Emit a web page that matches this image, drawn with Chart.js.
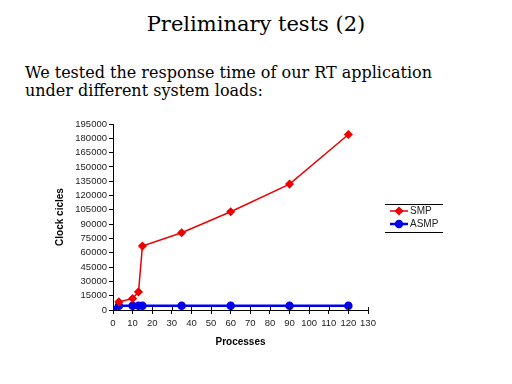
<!DOCTYPE html>
<html>
<head>
<meta charset="utf-8">
<script src="https://cdn.jsdelivr.net/npm/chart.js@4.4.0/dist/chart.umd.min.js"></script>
<style>
body { margin:0; width:512px; height:384px; background:#fff; overflow:hidden; position:relative; font-family:'DejaVu Serif', serif; color:#000; }
#title { position:absolute; left:0; width:512px; top:12px; text-align:center; font-size:21px; }
#intro { position:absolute; left:25px; top:64px; font-size:16px; line-height:18px; }
#wrap { position:absolute; left:0; top:110px; width:512px; height:260px; }
</style>
</head>
<body>
<div id="title">Preliminary tests (2)</div>
<div id="intro">We tested the response time of our RT application<br>under different system loads:</div>
<div id="wrap"><canvas id="c" width="512" height="260"></canvas></div>
<script>
// processes vs clock cycles
const smpX = [3, 10, 13, 15, 35, 60, 90, 120];
const smpY = [8500, 12000, 19000, 67000, 81000, 103000, 132000, 184000];
const asmpX = [0, 3, 10, 13, 15, 35, 60, 90, 120];
const asmpY = [0, 4500, 4500, 4500, 4500, 4500, 4500, 4500, 4500];
const seriesNames = ['SMP', 'ASMP'];
const xMax = 130, xStep = 10;
const yMax = 195000, yStep = 15000;

const RED = '#ee0000';
const BLUE = '#0000ee';
const tickFont = { family: 'Arial, "Liberation Sans", sans-serif', size: 9.5 };

function pts(xs, ys) {
  return xs.map((x, i) => ({ x: x, y: ys[i] }));
}

// little legend box with lines top and bottom, like the old excel one
const legendBox = {
  id: 'legendBox',
  afterDraw(chart) {
    const ctx = chart.ctx;
    ctx.save();
    ctx.strokeStyle = '#000';
    ctx.lineWidth = 1;
    ctx.beginPath();
    ctx.moveTo(385, 94.5); ctx.lineTo(443, 94.5);
    ctx.moveTo(385, 122.5); ctx.lineTo(443, 122.5);
    ctx.stroke();
    chart.data.datasets.forEach((ds, i) => {
      const y = 101 + i * 13;
      ctx.strokeStyle = ds.borderColor;
      ctx.lineWidth = ds.borderWidth;
      ctx.beginPath();
      ctx.moveTo(390, y); ctx.lineTo(408, y);
      ctx.stroke();
      ctx.fillStyle = ds.pointBackgroundColor;
      Chart.helpers.drawPoint(ctx, { pointStyle: ds.pointStyle, radius: ds.pointRadius, borderWidth: 1 }, 399, y);
      ctx.fillStyle = '#222';
      ctx.font = '10px Arial, "Liberation Sans", sans-serif';
      ctx.textBaseline = 'middle';
      ctx.fillText(ds.label, 410, y);
    });
    ctx.restore();
  }
};

// x ticks in the original poke through the axis line
const crossTicks = {
  id: 'crossTicks',
  afterDraw(chart) {
    const sx = chart.scales.x;
    const ctx = chart.ctx;
    ctx.save();
    ctx.strokeStyle = '#000';
    ctx.lineWidth = 1;
    ctx.beginPath();
    sx.ticks.forEach(t => {
      const px = Math.round(sx.getPixelForValue(t.value)) + 0.5;
      ctx.moveTo(px, chart.chartArea.bottom - 3);
      ctx.lineTo(px, chart.chartArea.bottom);
    });
    ctx.stroke();
    ctx.restore();
  }
};

new Chart(document.getElementById('c'), {
  type: 'scatter',
  data: {
    datasets: [
      {
        label: seriesNames[0], data: pts(smpX, smpY), showLine: true,
        borderColor: RED, backgroundColor: RED, borderWidth: 1.5,
        pointStyle: 'rectRot', pointRadius: 3.5, pointBackgroundColor: RED, pointBorderColor: RED
      },
      {
        label: seriesNames[1], data: pts(asmpX, asmpY), showLine: true,
        borderColor: BLUE, backgroundColor: BLUE, borderWidth: 2.5,
        pointStyle: 'circle', pointRadius: 3, pointBackgroundColor: BLUE, pointBorderColor: BLUE
      }
    ]
  },
  options: {
    responsive: false,
    animation: false,
    layout: { padding: { left: 50, right: 144, top: 14, bottom: 18 } },
    plugins: { legend: { display: false }, tooltip: { enabled: false } },
    scales: {
      x: {
        type: 'linear', min: 0, max: xMax,
        afterFit: s => { s.height = 42; },
        ticks: { stepSize: xStep, autoSkip: false, font: tickFont, color: '#222', maxRotation: 0, padding: 4, callback: v => String(v) },
        grid: { drawOnChartArea: false, drawTicks: true, tickLength: 4, color: '#000' },
        border: { display: true, color: '#000', width: 1 },
        title: { display: true, text: 'Processes', color: '#000', font: { family: 'Arial, "Liberation Sans", sans-serif', size: 10, weight: 'bold' } }
      },
      y: {
        type: 'linear', min: 0, max: yMax,
        afterFit: s => { s.width = 63; },
        ticks: { stepSize: yStep, autoSkip: false, font: tickFont, color: '#222', padding: 2, callback: v => String(v) },
        grid: { drawOnChartArea: false, drawTicks: true, tickLength: 4, color: '#000' },
        border: { display: true, color: '#000', width: 1 },
        title: { display: true, text: 'Clock cicles', color: '#000', font: { family: 'Arial, "Liberation Sans", sans-serif', size: 10, weight: 'bold' } }
      }
    }
  },
  plugins: [legendBox, crossTicks]
});
</script>
</body>
</html>
